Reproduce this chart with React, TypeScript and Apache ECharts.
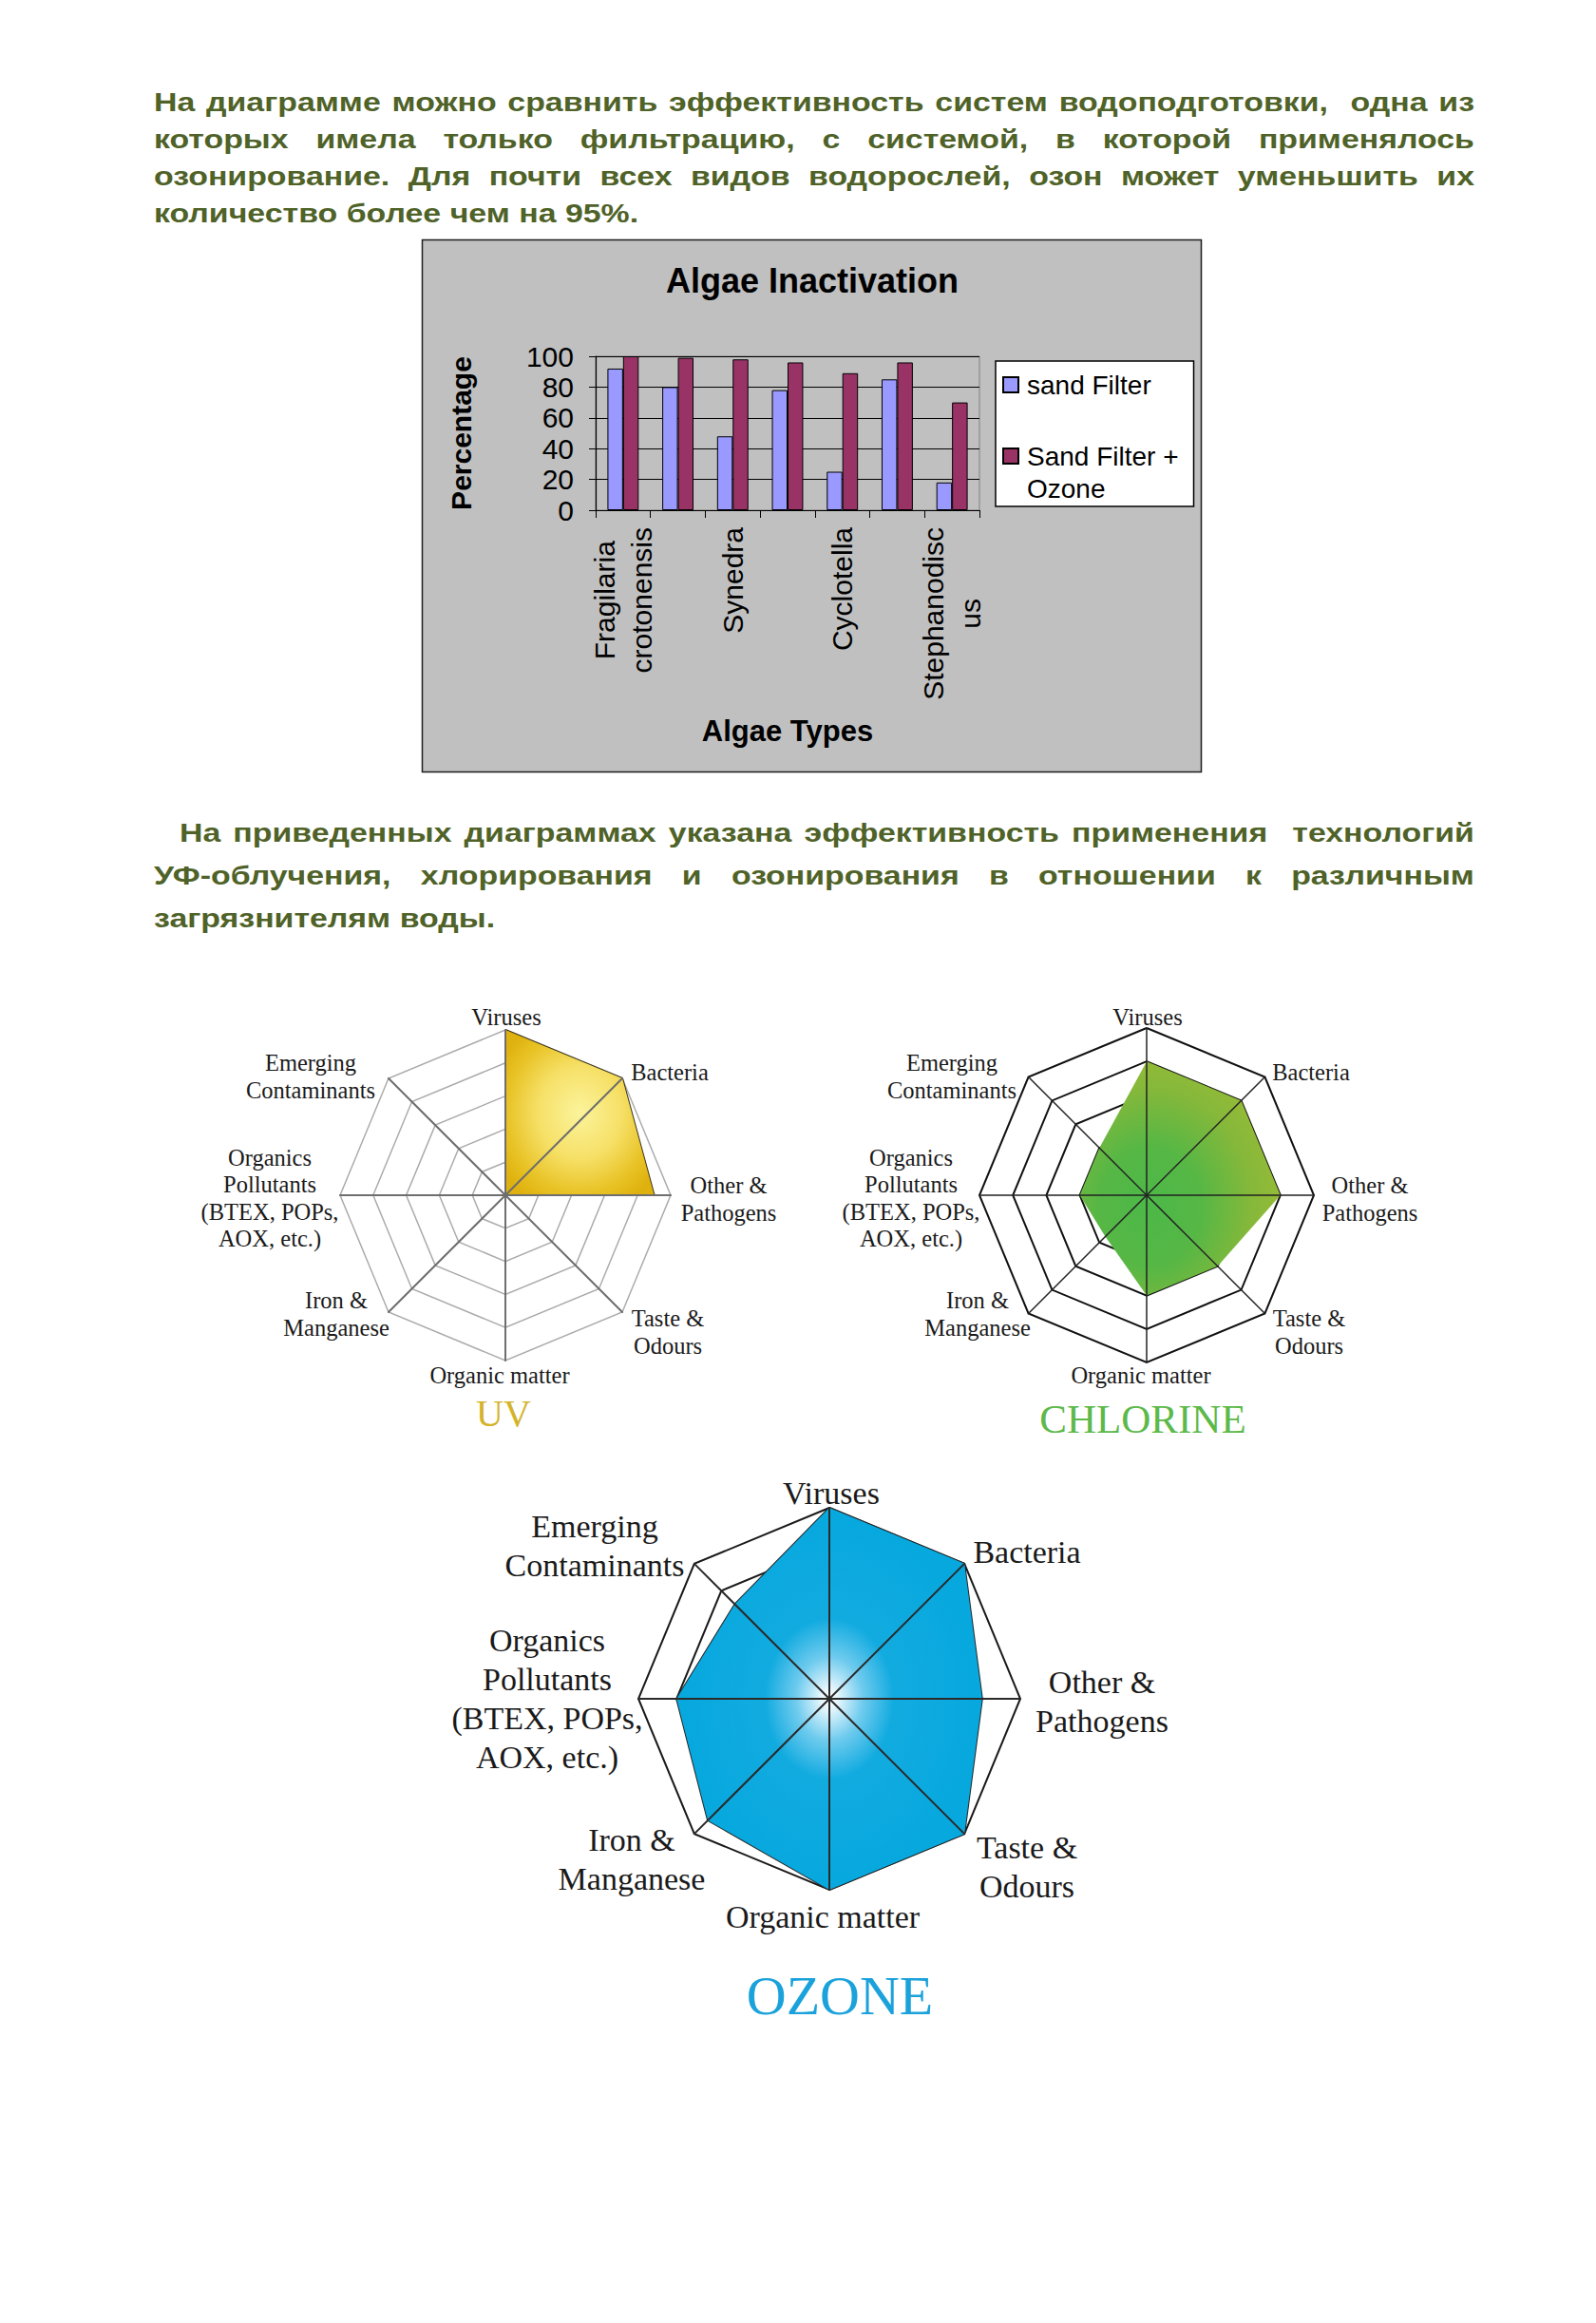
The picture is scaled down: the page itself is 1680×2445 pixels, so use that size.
import React, { useEffect, useRef } from 'react';
import * as echarts from 'echarts';

// ---------- text ----------
const paragraph1 = [
  'На диаграмме можно сравнить эффективность систем водоподготовки,  одна из',
  'которых имела только фильтрацию, с системой, в которой применялось',
  'озонирование. Для почти всех видов водорослей, озон может уменьшить их',
  'количество более чем на 95%.',
];
const paragraph2 = [
  'На приведенных диаграммах указана эффективность применения  технологий',
  'УФ-облучения, хлорирования и озонирования в отношении к различным',
  'загрязнителям воды.',
];

// ---------- bar chart data ----------
const chartTitle = 'Algae Inactivation';
const algaeTypes = ['Fragilaria crotonensis', '', 'Synedra', '', 'Cyclotella', '', 'Stephanodiscus'];
const sandFilter = [92, 80, 48, 78, 25, 85, 18];
const sandFilterOzone = [100, 99, 98, 96, 89, 96, 70];
const seriesNames = ['sand Filter', 'Sand Filter + Ozone'];
const yAxisName = 'Percentage';
const xAxisName = 'Algae Types';

// ---------- radar data (indicators counter-clockwise from the top) ----------
const contaminants = [
  'Viruses',
  'Emerging\nContaminants',
  'Organics\nPollutants\n(BTEX, POPs,\nAOX, etc.)',
  'Iron &\nManganese',
  'Organic matter',
  'Taste &\nOdours',
  'Other &\nPathogens',
  'Bacteria',
];
const uvValues = [1, 0, 0, 0, 0, 0, 0.9, 1];
const chlorineValues = [0.8, 0.4, 0.4, 0.35, 0.6, 0.6, 0.8, 0.8];
const ozoneValues = [1, 0.7, 0.8, 0.9, 1, 1, 0.8, 1];
const radarTitles = ['UV', 'CHLORINE', 'OZONE'];

// ---------- layout (label block centres relative to each radar centre) ----------
const smallLabelOffsets = [
  [1, -188], [-205, -125], [-248, 3], [-178, 125], [-6, 189], [171, 144], [235, 4], [173, -130],
];
const bigLabelOffsets = [
  [2, -217], [-247, -161], [-297, 0], [-208, 169], [-7, 229], [208, 177], [287, 3], [208, -155],
];

const SANS = '"Liberation Sans", Arial, sans-serif';
const SERIF = '"Liberation Serif", "Times New Roman", serif';
const TEXT_GREEN = '#4f6228';
const TEXT_SCALE_X = 1.21;

function justifiedLines(lines: string[], left: number, firstIndent: number, right: number, y0: number, lh: number) {
  const canvas = document.createElement('canvas');
  const ctx = canvas.getContext('2d')!;
  ctx.font = `bold 28px ${SANS}`;
  const space = ctx.measureText(' ').width * TEXT_SCALE_X;
  const els: any[] = [];
  lines.forEach((line, li) => {
    const words = line.split(' ');
    const widths = words.map((w) => ctx.measureText(w).width * TEXT_SCALE_X);
    const total = widths.reduce((a, b) => a + b, 0);
    const l = li === 0 ? left + firstIndent : left;
    const last = li === lines.length - 1;
    let gap = !last && words.length > 1 ? (right - l - total) / (words.length - 1) : space;
    gap = Math.max(gap, space * 0.4);
    let x = l;
    const y = y0 + li * lh;
    words.forEach((w, i) => {
      if (w) {
        els.push({
          type: 'text',
          x,
          y,
          scaleX: TEXT_SCALE_X,
          silent: true,
          style: {
            text: w,
            fill: TEXT_GREEN,
            fontSize: 28,
            fontWeight: 'bold',
            fontFamily: SANS,
            align: 'left',
            textAlign: 'left',
            verticalAlign: 'middle',
            textVerticalAlign: 'middle',
          },
        });
      }
      x += widths[i] + gap;
    });
  });
  return els;
}

function radarLabels(center: number[], offsets: number[][], fontSize: number, lineHeight: number) {
  return contaminants.map((name, i) => ({
    type: 'text',
    x: center[0] + offsets[i][0],
    y: center[1] + offsets[i][1],
    silent: true,
    style: {
      text: name,
      fill: '#1a1a1a',
      fontSize,
      lineHeight,
      fontFamily: SERIF,
      align: 'center',
      textAlign: 'center',
      verticalAlign: 'middle',
      textVerticalAlign: 'middle',
    },
  }));
}

const wrapAlgae = (name: string) =>
  name.split(' ').flatMap((w) => (w.length > 12 ? [w.slice(0, 12), w.slice(12)] : [w]));

function radarPair(center: number[], radius: number, ringColor: string, ringWidth: number, spokeColor: string, spokeWidth: number) {
  const indicator = contaminants.map((name) => ({ name, max: 1 }));
  return [
    {
      center,
      radius,
      startAngle: 90,
      splitNumber: 5,
      shape: 'polygon',
      indicator,
      z: 1,
      axisName: { show: false },
      splitLine: { show: true, lineStyle: { color: ringColor, width: ringWidth } },
      splitArea: { show: false },
      axisLine: { show: false },
    },
    {
      center,
      radius,
      startAngle: 90,
      splitNumber: 5,
      shape: 'polygon',
      indicator,
      z: 3,
      axisName: { show: false },
      splitLine: { show: false },
      splitArea: { show: false },
      axisLine: { show: true, lineStyle: { color: spokeColor, width: spokeWidth } },
    },
  ];
}

const UV_C = [532, 1258];
const CL_C = [1207, 1258];
const OZ_C = [873, 1788];

export default function App() {
  const ref = useRef<HTMLDivElement>(null);
  useEffect(() => {
    if (!ref.current) return;
    const chart = echarts.init(ref.current, null, { renderer: 'svg' });

    const textEls = [
      ...justifiedLines(paragraph1, 162, 0, 1552, 108, 39),
      ...justifiedLines(paragraph2, 162, 27, 1552, 877, 45),
      ...radarLabels(UV_C, smallLabelOffsets, 24.5, 28.5),
      ...radarLabels(CL_C, smallLabelOffsets, 24.5, 28.5),
      ...radarLabels(OZ_C, bigLabelOffsets, 34, 41),
    ];

    const option: any = {
      animation: false,
      textStyle: { fontFamily: SANS },
      title: [
        {
          text: chartTitle,
          left: 855,
          top: 276,
          padding: 0,
          textAlign: 'center',
          textVerticalAlign: 'top',
          textStyle: { fontFamily: SANS, fontSize: 36, fontWeight: 'bold', color: '#000', lineHeight: 38 },
        },
        {
          text: radarTitles[0],
          left: 530,
          top: 1466,
          padding: 0,
          textAlign: 'center',
          textVerticalAlign: 'top',
          textStyle: { fontFamily: SERIF, fontSize: 40, fontWeight: 'normal', color: '#d4b32a', lineHeight: 42 },
        },
        {
          text: radarTitles[1],
          left: 1203,
          top: 1471,
          padding: 0,
          textAlign: 'center',
          textVerticalAlign: 'top',
          textStyle: { fontFamily: SERIF, fontSize: 43, fontWeight: 'normal', color: '#5cb94a', lineHeight: 44 },
        },
        {
          text: radarTitles[2],
          left: 884,
          top: 2070,
          padding: 0,
          textAlign: 'center',
          textVerticalAlign: 'top',
          textStyle: { fontFamily: SERIF, fontSize: 58, fontWeight: 'normal', color: '#1ba2db', lineHeight: 60 },
        },
      ],
      graphic: [
        {
          type: 'rect',
          z: -10,
          silent: true,
          shape: { x: 444.5, y: 252.5, width: 820, height: 560 },
          style: { fill: '#c0c0c0', stroke: '#1e1e1e', lineWidth: 1.5 },
        },
        ...textEls,
      ],
      legend: {
        data: seriesNames,
        orient: 'vertical',
        left: 1048,
        top: 380,
        padding: [8, 16, 2, 7],
        itemGap: 7,
        itemWidth: 24,
        itemHeight: 16,
        icon: 'path://M0,0h10v10h-10z',
        backgroundColor: '#ffffff',
        borderColor: '#000',
        borderWidth: 1.5,
        selectedMode: false,
        formatter: (name: string) => (name.includes(' + ') ? '\n' + name.replace(' + ', ' +\n') : name),
        textStyle: { fontFamily: SANS, fontSize: 28, lineHeight: 34, color: '#000' },
      },
      grid: {
        left: 627,
        top: 375,
        width: 404,
        height: 162,
        show: true,
        borderColor: '#808080',
        borderWidth: 1,
        backgroundColor: 'transparent',
      },
      xAxis: {
        type: 'category',
        data: algaeTypes,
        name: xAxisName,
        nameLocation: 'middle',
        nameGap: 217,
        nameTextStyle: { fontFamily: SANS, fontSize: 31, fontWeight: 'bold', color: '#000' },
        axisLine: { lineStyle: { color: '#000', width: 1.2 } },
        axisTick: { show: true, length: 8, lineStyle: { color: '#000' }, interval: 0 },
        axisLabel: {
          interval: 0,
          rotate: 90,
          margin: 18,
          color: '#000',
          fontSize: 30,
          fontFamily: SANS,
          formatter: (v: string) => (v ? wrapAlgae(v).map((l) => `{c|${l}}`).join('\n') : ''),
          rich: { c: { align: 'center', fontSize: 30, fontFamily: SANS, color: '#000', lineHeight: 39 } },
        },
      },
      yAxis: {
        type: 'value',
        min: 0,
        max: 100,
        interval: 20,
        name: yAxisName,
        nameLocation: 'middle',
        nameRotate: 90,
        nameGap: 127,
        nameTextStyle: { fontFamily: SANS, fontSize: 30, fontWeight: 'bold', color: '#000' },
        axisLine: { show: true, lineStyle: { color: '#000', width: 1.2 } },
        axisTick: { show: true, length: 7, lineStyle: { color: '#000' } },
        axisLabel: { color: '#000', fontSize: 30, fontFamily: SANS, margin: 23 },
        splitLine: { show: true, lineStyle: { color: '#000', width: 1 } },
      },
      radar: [
        ...radarPair(UV_C, 174, '#ababab', 1.5, '#6e6e6e', 2),
        ...radarPair(CL_C, 176, '#111111', 2, '#222222', 1.5),
        ...radarPair(OZ_C, 201, '#1a1a1a', 2, '#2a2a2a', 2),
      ],
      series: [
        {
          type: 'bar',
          name: seriesNames[0],
          data: sandFilter,
          barGap: '0%',
          barCategoryGap: '43%',
          itemStyle: { color: '#9999ff', borderColor: '#000', borderWidth: 1 },
        },
        {
          type: 'bar',
          name: seriesNames[1],
          data: sandFilterOzone,
          barGap: '0%',
          barCategoryGap: '43%',
          itemStyle: { color: '#993366', borderColor: '#000', borderWidth: 1 },
        },
        {
          type: 'radar',
          radarIndex: 0,
          z: 2,
          symbol: 'none',
          data: [{ name: radarTitles[0], value: uvValues }],
          lineStyle: { color: '#3a3320', width: 2 },
          areaStyle: {
            opacity: 1,
            color: new echarts.graphic.RadialGradient(0.5, 0.5, 0.62, [
              { offset: 0, color: '#fbf39c' },
              { offset: 0.45, color: '#f6e067' },
              { offset: 0.8, color: '#e8c224' },
              { offset: 1, color: '#deb10e' },
            ]),
          },
        },
        {
          type: 'radar',
          radarIndex: 2,
          z: 2,
          symbol: 'none',
          data: [{ name: radarTitles[1], value: chlorineValues }],
          lineStyle: { opacity: 0, width: 0 },
          areaStyle: {
            opacity: 1,
            color: new echarts.graphic.RadialGradient(0.35, 0.62, 0.85, [
              { offset: 0, color: '#4cb848' },
              { offset: 0.3, color: '#56b745' },
              { offset: 0.6, color: '#86b83a' },
              { offset: 1, color: '#a8be33' },
            ]),
          },
        },
        {
          type: 'radar',
          radarIndex: 4,
          z: 2,
          symbol: 'none',
          data: [{ name: radarTitles[2], value: ozoneValues }],
          lineStyle: { color: '#262626', width: 2 },
          areaStyle: {
            opacity: 1,
            color: new echarts.graphic.RadialGradient(0.5, 0.5, 0.5, [
              { offset: 0, color: '#ffffff' },
              { offset: 0.06, color: '#e3f5fc' },
              { offset: 0.22, color: '#6fcbee' },
              { offset: 0.42, color: '#12abe0' },
              { offset: 1, color: '#06a8de' },
            ]),
          },
        },
      ],
    };

    chart.setOption(option);
    return () => chart.dispose();
  }, []);

  return (
    <div
      ref={ref}
      style={{ position: 'absolute', left: 0, top: 0, width: 1680, height: 2445, background: '#ffffff' }}
    />
  );
}
